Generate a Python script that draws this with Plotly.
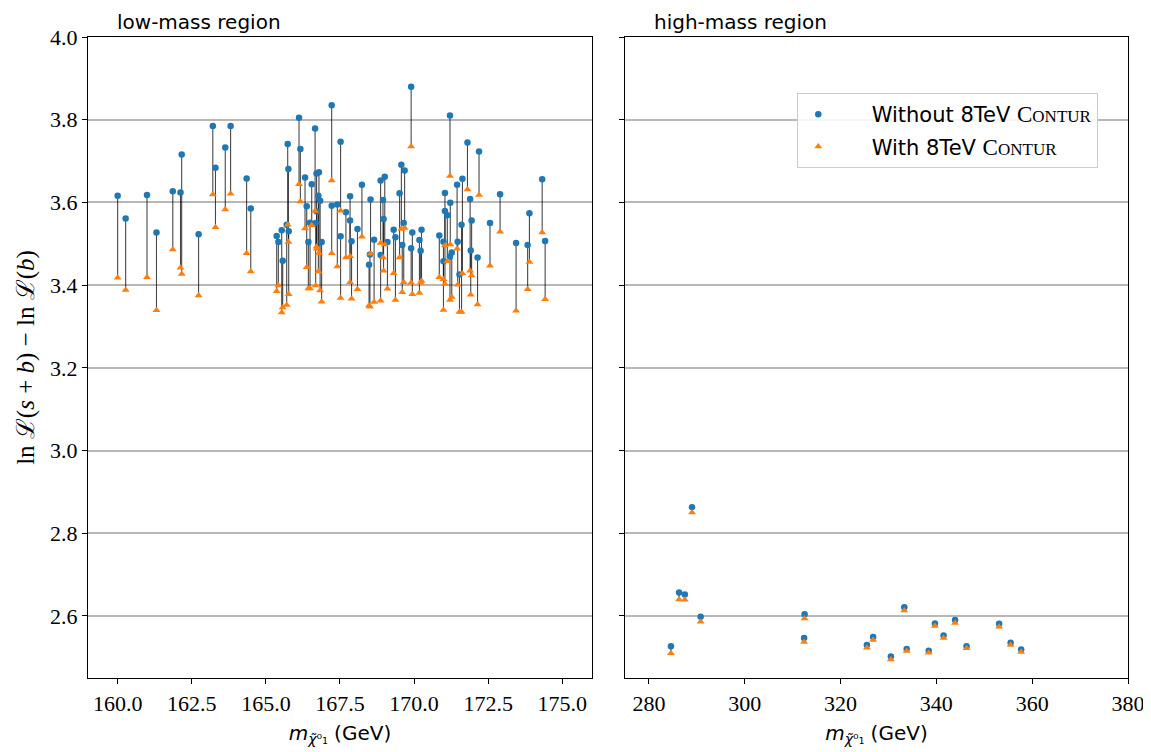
import plotly.graph_objects as go

# ---------------- data ----------------
low_mass = [
    160.00, 160.27, 160.99, 161.31, 161.86, 162.12, 162.16, 162.73, 163.21, 163.30,
    163.63, 163.81, 164.35, 164.49,
    165.365, 165.421, 165.534, 165.567, 165.702, 165.736, 165.759, 165.770, 166.118, 166.163,
    166.321, 166.377, 166.433, 166.489, 166.546, 166.66, 166.68, 166.71, 166.79, 166.77,
    166.83, 166.72, 166.88,
    167.22, 167.22, 167.41, 167.52, 167.52, 167.70, 167.84, 167.84, 167.89, 168.09,
    168.24, 168.53, 168.48, 168.51, 168.65, 168.87, 169.01, 168.95, 168.97, 168.87,
    169.10, 169.31, 169.37, 169.57, 169.68, 169.51, 169.65, 169.60,
    169.90, 169.90, 169.94, 170.18, 170.25, 170.22, 170.85, 170.99, 170.99, 171.04,
    171.04, 171.12, 171.21, 171.21, 171.22, 171.27, 171.45, 171.47, 171.53, 171.60,
    171.63, 171.80, 171.89, 171.91, 171.94, 172.14, 172.19, 172.56, 172.90, 173.44,
    173.83, 173.89, 174.32, 174.42,
]
low_without = [
    3.616, 3.561, 3.618, 3.527, 3.627, 3.624, 3.716, 3.523, 3.785, 3.684,
    3.733, 3.785, 3.658, 3.585,
    3.519, 3.504, 3.533, 3.459, 3.546, 3.741, 3.681, 3.530, 3.805, 3.729,
    3.660, 3.591, 3.504, 3.551, 3.644, 3.779, 3.550, 3.670, 3.673, 3.616,
    3.604, 3.578, 3.504,
    3.835, 3.592, 3.595, 3.747, 3.518, 3.576, 3.615, 3.556, 3.506, 3.536,
    3.643, 3.607, 3.449, 3.474, 3.510, 3.653, 3.662, 3.606, 3.560, 3.473,
    3.504, 3.534, 3.516, 3.691, 3.677, 3.622, 3.550, 3.497,
    3.880, 3.489, 3.527, 3.509, 3.534, 3.483, 3.520, 3.505, 3.458, 3.623,
    3.579, 3.569, 3.810, 3.469, 3.599, 3.479, 3.643, 3.505, 3.426, 3.546,
    3.657, 3.745, 3.608, 3.484, 3.556, 3.467, 3.723, 3.550, 3.620, 3.502,
    3.497, 3.574, 3.656, 3.507,
]
low_with = [
    3.418, 3.388, 3.419, 3.339, 3.486, 3.442, 3.427, 3.375, 3.619, 3.540,
    3.583, 3.621, 3.477, 3.433,
    3.385, 3.399, 3.334, 3.346, 3.352, 3.546, 3.504, 3.378, 3.644, 3.602,
    3.537, 3.443, 3.392, 3.392, 3.545, 3.579, 3.399, 3.493, 3.477, 3.433,
    3.387, 3.488, 3.360,
    3.653, 3.477, 3.445, 3.580, 3.369, 3.467, 3.470, 3.407, 3.367, 3.390,
    3.517, 3.476, 3.351, 3.348, 3.359, 3.502, 3.498, 3.467, 3.435, 3.362,
    3.391, 3.429, 3.364, 3.536, 3.538, 3.467, 3.407, 3.383,
    3.735, 3.406, 3.378, 3.381, 3.410, 3.406, 3.419, 3.414, 3.340, 3.496,
    3.403, 3.458, 3.664, 3.364, 3.498, 3.371, 3.488, 3.401, 3.335, 3.335,
    3.428, 3.631, 3.435, 3.377, 3.423, 3.353, 3.618, 3.447, 3.529, 3.338,
    3.390, 3.456, 3.527, 3.366,
]

high_mass = [284.6, 286.3, 287.5, 289.0, 290.8, 312.5, 312.4, 325.5, 326.8, 330.5,
             333.3, 333.8, 338.4, 339.7, 341.5, 343.9, 346.3, 353.1, 355.5, 357.7]
high_without = [2.527, 2.657, 2.652, 2.863, 2.598, 2.604, 2.547, 2.530, 2.549, 2.502,
                2.621, 2.520, 2.516, 2.582, 2.553, 2.590, 2.527, 2.581, 2.535, 2.519]
high_with = [2.510, 2.640, 2.639, 2.850, 2.586, 2.594, 2.537, 2.523, 2.542, 2.495,
             2.613, 2.515, 2.511, 2.576, 2.547, 2.583, 2.522, 2.574, 2.530, 2.513]

low_xticks = [160.0, 162.5, 165.0, 167.5, 170.0, 172.5, 175.0]
high_xticks = [280, 300, 320, 340, 360, 380]
y_ticks = [2.6, 2.8, 3.0, 3.2, 3.4, 3.6, 3.8, 4.0]

pad = "\u00a0" * 5
contur = ("<span style='font-family:Liberation Serif;font-size:23px'>C"
          "<span style='font-size:17px'>ONTUR</span></span>")
label_without = pad + "Without 8TeV " + contur
label_with = pad + "With 8TeV " + contur

BLUE = "#1f77b4"
ORANGE = "#ff7f0e"


def stems(xs, y1, y2):
    sx, sy = [], []
    for x, a, b in zip(xs, y1, y2):
        sx += [x, x, None]
        sy += [a, b, None]
    return sx, sy


fig = go.Figure()

for xs, yw, yo, xa, ya, leg in [
    (low_mass, low_without, low_with, "x", "y", True),
    (high_mass, high_without, high_with, "x2", "y2", False),
]:
    sx, sy = stems(xs, yw, yo)
    fig.add_trace(go.Scatter(x=sx, y=sy, mode="lines", xaxis=xa, yaxis=ya,
                             line=dict(color="rgba(0,0,0,0.72)", width=1.1),
                             showlegend=False, hoverinfo="skip"))
    fig.add_trace(go.Scatter(x=xs, y=yw, mode="markers", xaxis=xa, yaxis=ya,
                             name=label_without, legendgroup="a", showlegend=leg,
                             marker=dict(color=BLUE, size=6.5, symbol="circle")))
    fig.add_trace(go.Scatter(x=xs, y=yo, mode="markers", xaxis=xa, yaxis=ya,
                             name=label_with, legendgroup="b", showlegend=leg,
                             marker=dict(color=ORANGE, size=7, symbol="triangle-up")))

tickfont = dict(family="Liberation Serif", size=22, color="black")
axis_common = dict(showline=True, linecolor="black", linewidth=1.2, mirror=True,
                   ticks="outside", ticklen=5, tickwidth=1.1, tickcolor="black",
                   tickfont=tickfont, zeroline=False)
xtitle = "<i>m</i><sub><i>χ̃</i>⁰₁</sub> (GeV)"
xtitle_font = dict(family="DejaVu Sans", size=20, color="black")

fig.update_layout(
    width=1151, height=752,
    margin=dict(l=80, r=31, t=29, b=82),
    paper_bgcolor="white", plot_bgcolor="white",
    showlegend=True,
    legend=dict(x=0.682, y=0.9126, xanchor="left", yanchor="top",
                bgcolor="rgba(255,255,255,0.85)", bordercolor="#cccccc", borderwidth=1,
                font=dict(family="DejaVu Sans", size=21, color="black"),
                tracegroupgap=2, itemwidth=30),
    xaxis=dict(domain=[0, 0.4846], range=[159.0, 176.0], tickvals=low_xticks,
               ticktext=[f"{v:.1f}" for v in low_xticks], showgrid=False,
               title=dict(text=xtitle, font=xtitle_font, standoff=11),
               anchor="y", **axis_common),
    xaxis2=dict(domain=[0.5163, 1], range=[275, 380], tickvals=high_xticks,
                ticktext=[str(v) for v in high_xticks], showgrid=False,
                title=dict(text=xtitle, font=xtitle_font, standoff=11),
                anchor="y2", **axis_common),
    yaxis=dict(domain=[0, 1], range=[2.45, 4.0], tickvals=y_ticks,
               ticktext=[f"{v:.1f}" for v in y_ticks], showgrid=True,
               gridcolor="#b8b8b8", gridwidth=1.5,
               title=dict(text="ln ℒ(<i>s</i> + <i>b</i>) − ln ℒ(<i>b</i>)",
                          font=dict(family="Liberation Serif", size=25, color="black"),
                          standoff=8),
               anchor="x", **axis_common),
    yaxis2=dict(domain=[0, 1], range=[2.45, 4.0], tickvals=y_ticks, matches="y",
                showticklabels=False, showgrid=True, gridcolor="#b8b8b8", gridwidth=1.5,
                anchor="x2", **axis_common),
    annotations=[
        dict(text="low-mass region", xref="paper", yref="paper", x=0.026, y=1.0,
             xanchor="left", yanchor="bottom", showarrow=False, yshift=1,
             font=dict(family="DejaVu Sans", size=20, color="black")),
        dict(text="high-mass region", xref="paper", yref="paper", x=0.5423, y=1.0,
             xanchor="left", yanchor="bottom", showarrow=False, yshift=1,
             font=dict(family="DejaVu Sans", size=20, color="black")),
    ],
)

fig.write_html("out.html")
